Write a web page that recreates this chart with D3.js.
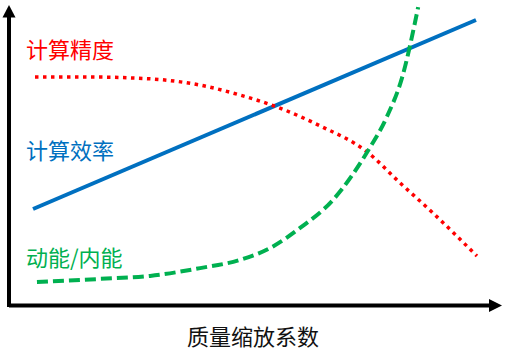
<!DOCTYPE html>
<html>
<head>
<meta charset="utf-8">
<script src="https://cdn.jsdelivr.net/npm/d3@7"></script>
<style>
  html, body { margin: 0; padding: 0; background: #fff; }
  svg { display: block; }
</style>
</head>
<body>
<div id="chart"></div>
<script>
// 数据（横轴：质量缩放系数，纵轴：相对量，均为示意值）
const effX = [0.47, 9.51];
const effY = [3.2, 9.5];

const accX = [0.51, 1.63, 2.45, 3.16, 3.88, 4.69, 5.45, 6.33, 7.29, 7.96, 8.63, 9.53];
const accY = [7.6, 7.6, 7.57, 7.5, 7.33, 7.0, 6.6, 5.97, 5.1, 4.07, 3.07, 1.63];

const keX = [0.55, 1.84, 2.86, 3.88, 4.69, 5.31, 5.92, 6.59, 7.29, 7.69, 8.0, 8.33];
const keY = [0.77, 0.87, 0.97, 1.23, 1.5, 1.9, 2.57, 3.5, 5.1, 6.27, 7.57, 9.93];

const labels = ['计算精度', '计算效率', '动能/内能'];
const xTitle = '质量缩放系数';

const width = 512, height = 355;
const font = '"Noto Sans CJK SC", "Noto Sans", sans-serif';

const svg = d3.select('#chart').append('svg')
    .attr('width', width)
    .attr('height', height);

// 比例尺
const x = d3.scaleLinear().domain([0, 10]).range([10, 500]);
const y = d3.scaleLinear().domain([0, 10]).range([305, 5]);

// 坐标轴（带箭头）
svg.append('line')
    .attr('x1', 9).attr('y1', 307)
    .attr('x2', 9).attr('y2', 16)
    .attr('stroke', '#000').attr('stroke-width', 4);
svg.append('path')
    .attr('d', 'M9,5 L15.5,17.5 L2.5,17.5 Z')
    .attr('fill', '#000');

svg.append('line')
    .attr('x1', 9).attr('y1', 305.5)
    .attr('x2', 491).attr('y2', 305.5)
    .attr('stroke', '#000').attr('stroke-width', 4);
svg.append('path')
    .attr('d', 'M502,305.5 L489,299 L489,312 Z')
    .attr('fill', '#000');

const line = d3.line()
    .x(d => x(d[0]))
    .y(d => y(d[1]))
    .curve(d3.curveMonotoneX);

// 计算效率 - 蓝色实线
svg.append('path')
    .datum(d3.zip(effX, effY))
    .attr('d', d3.line().x(d => x(d[0])).y(d => y(d[1])))
    .attr('fill', 'none')
    .attr('stroke', '#0070C0')
    .attr('stroke-width', 4);

// 计算精度 - 红色点线
svg.append('path')
    .datum(d3.zip(accX, accY))
    .attr('d', line)
    .attr('fill', 'none')
    .attr('stroke', '#FF0000')
    .attr('stroke-width', 3.5)
    .attr('stroke-dasharray', '3.5,4.5');

// 动能/内能 - 绿色虚线
svg.append('path')
    .datum(d3.zip(keX, keY))
    .attr('d', line)
    .attr('fill', 'none')
    .attr('stroke', '#00B050')
    .attr('stroke-width', 4)
    .attr('stroke-dasharray', '11,5');

// 标签
const labelPos = [[26, 58, '#FF0000'], [26, 159, '#0070C0'], [26, 266, '#00B050']];
svg.selectAll('.lbl')
    .data(labels)
    .enter()
    .append('text')
    .attr('class', 'lbl')
    .attr('x', (d, i) => labelPos[i][0])
    .attr('y', (d, i) => labelPos[i][1])
    .attr('fill', (d, i) => labelPos[i][2])
    .style('font-family', font)
    .style('font-size', '22px')
    .text(d => d);

svg.append('text')
    .attr('x', 253)
    .attr('y', 345)
    .attr('text-anchor', 'middle')
    .attr('fill', '#111')
    .style('font-family', font)
    .style('font-size', '22px')
    .text(xTitle);
</script>
</body>
</html>
